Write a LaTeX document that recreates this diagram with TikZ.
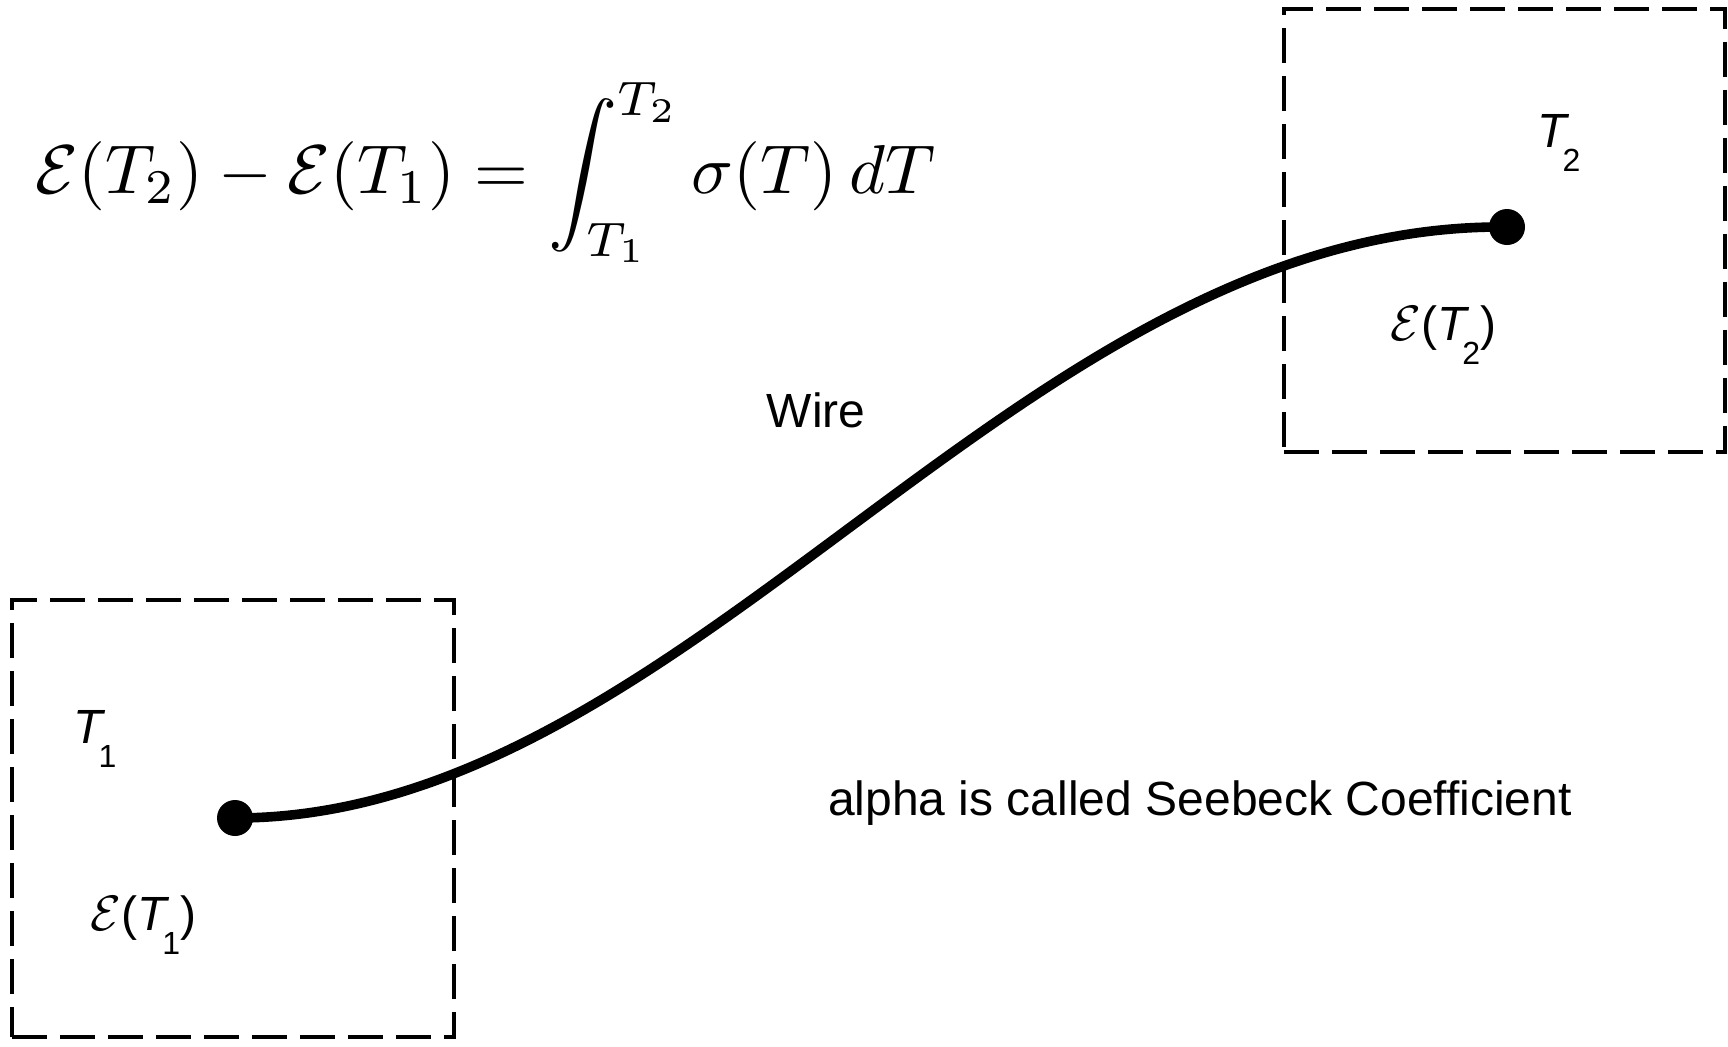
\documentclass[tikz,border=0pt]{standalone}
\usepackage{fontspec}
\usepackage{graphicx}
\setmainfont{Liberation Sans}
\newcommand\tsubx[1]{\textit{T}\kern-3.5pt\raisebox{-12pt}{\fontsize{16}{16}\selectfont #1}}
\tikzset{
  regionbox/.style={draw, line width=2pt, dash pattern=on 17.5pt off 6.5pt, inner sep=0pt},
  contact/.style={circle, fill=black, inner sep=0pt, minimum size=18pt},
  wirepath/.style={line width=4.8pt},
  lbl/.style={inner sep=0pt, font=\fontsize{24}{28}\selectfont},
}
\begin{document}
\begin{tikzpicture}[x=0.5pt, y=-0.5pt]
\fill[white] (0,0) rectangle (1728,1046);
\useasboundingbox (0,0) rectangle (1728,1046);
% boxes
\node[regionbox, minimum width=221pt, minimum height=218.5pt] (box1) at (233,818.5) {};
\node[regionbox, minimum width=220.5pt, minimum height=221.5pt] (box2) at (1504.5,230.5) {};
% contacts
\node[contact] (d1) at (235,818) {};
\node[contact] (d2) at (1507,227) {};
% wire
\draw[wirepath] (d1.center) .. controls (690,818) and (1020,222) .. (d2.center);
% equation
\node[anchor=base west, inner sep=0pt] (eq) at (35,193)
  {\resizebox{450pt}{!}{$\displaystyle \mathcal{E}(T_2)-\mathcal{E}(T_1)=\int_{T_1}^{T_2}\sigma(T)\,dT$}};
% labels
\node[lbl, anchor=base west] (t2) at (1537,147) {\tsubx{2}};
\node[lbl, anchor=base west] (e2) at (1390,340) {$\mathcal{E}$(\tsubx{2})};
\node[lbl, anchor=base west] (t1) at (73,743) {\tsubx{1}};
\node[lbl, anchor=base west] (e1) at (90,930) {$\mathcal{E}$(\tsubx{1})};
\node[inner sep=0pt, font=\fontsize{24}{28}\selectfont] (wire) at (816,410) {Wire};
\node[inner sep=0pt, anchor=base, font=\fontsize{24}{28}\selectfont] (note) at (1200,815) {alpha is called Seebeck Coefficient};
\end{tikzpicture}
\end{document}
